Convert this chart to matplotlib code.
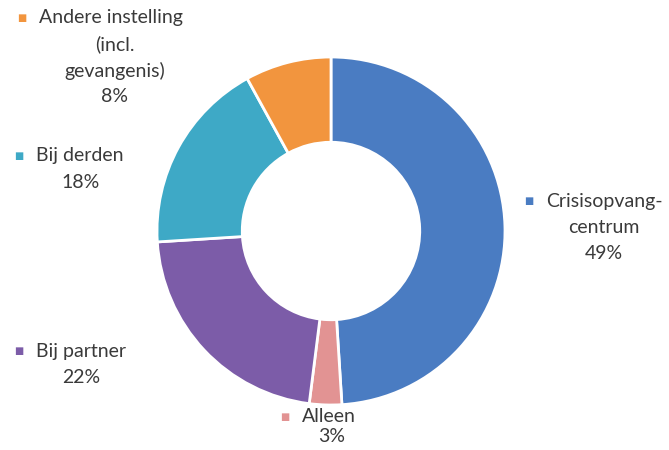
import matplotlib
matplotlib.use('Agg')
import matplotlib.pyplot as plt

labels = ['Crisisopvang-\ncentrum', 'Alleen', 'Bij partner', 'Bij derden',
          'Andere instelling\n(incl.\ngevangenis)']
values = [49, 3, 22, 18, 8]
colors = ['#4a7cc2', '#e29393', '#7c5ca8', '#3ea9c6', '#f2953e']

# label anchor (square marker x, first line y, centre x of later lines) in pixels
label_pos = [
    (529, 201, 604),
    (285, 417, 332),
    (19, 351, 81),
    (19, 156, 81),
    (22, 18, 115),
]

W, H = 669, 450
fig = plt.figure(figsize=(W / 100, H / 100), dpi=100)
plt.rcParams['font.family'] = ['Lato', 'DejaVu Sans']

cx, cy, r = 331, 231, 174
ax = fig.add_axes([(cx - r) / W, 1 - (cy + r) / H, 2 * r / W, 2 * r / H])
ax.pie(values, colors=colors, startangle=90, counterclock=False, radius=1,
       wedgeprops=dict(width=0.49, edgecolor='white', linewidth=2))
ax.set_aspect('auto')
ax.set_xlim(-1, 1)
ax.set_ylim(-1, 1)

for (mx, my, tx), lab, val, col in zip(label_pos, labels, values, colors):
    lines = lab.split('\n') + [f'{val}%']
    fig.text(mx / W, 1 - my / H, '\u25A0', color=col, fontsize=7,
             ha='center', va='center', family='DejaVu Sans')
    step = 26.3 if my < 400 else 20
    for i, line in enumerate(lines):
        if i == 0:
            fig.text((mx + 17) / W, 1 - my / H, line, color='#3a3a3a',
                     fontsize=14, ha='left', va='center')
        else:
            fig.text(tx / W, 1 - (my + i * step) / H, line, color='#3a3a3a',
                     fontsize=14, ha='center', va='center')

fig.savefig('out.png', dpi=100, facecolor='white')
